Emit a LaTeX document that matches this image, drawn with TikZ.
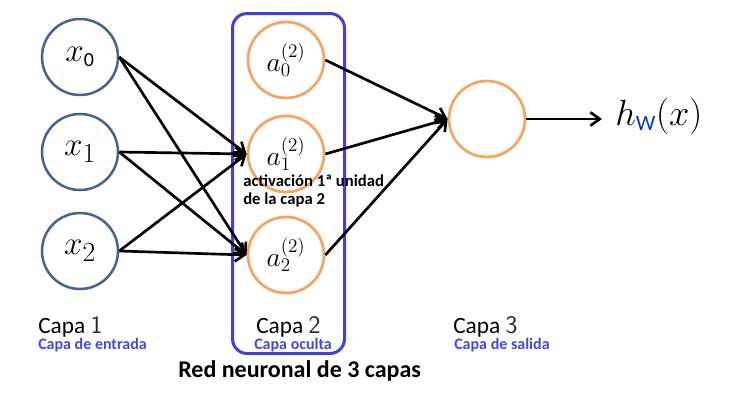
\documentclass[tikz,border=0pt]{standalone}
\usepackage{fontspec}
\usepackage{graphicx}
\newfontfamily\carlito{Carlito}
\usetikzlibrary{arrows.meta}
\definecolor{boxblue}{RGB}{66,66,204}
\definecolor{lblblue}{RGB}{72,72,214}
\definecolor{inblue}{RGB}{72,100,140}
\definecolor{orng}{RGB}{240,168,105}
\definecolor{wblue}{RGB}{0,60,190}
\definecolor{digitgray}{RGB}{40,40,40}
\begin{document}
\begin{tikzpicture}[x=0.75pt,y=-0.75pt,
  inneur/.style={circle,draw=inblue,line width=1.9pt,minimum size=57pt,inner sep=0pt,font=\fontsize{24.88}{25}\selectfont},
  hidneur/.style={circle,draw=orng,line width=2.1pt,minimum size=57pt,inner sep=0pt,font=\fontsize{22}{22}\selectfont},
  conn/.style={line width=2pt,-{Straight Barb[length=7pt,width=10pt]}},
  layer/.style={anchor=base west,inner sep=0pt,font=\carlito\fontsize{17.5}{17.5}\selectfont},
  sublbl/.style={anchor=base west,inner sep=0pt,text=lblblue,font=\carlito\bfseries\fontsize{12}{12}\selectfont},
  hidbox/.style={draw=boxblue,line width=2.25pt,rounded corners=11pt}
]
\useasboundingbox (0,0) rectangle (731,408);
% hidden layer frame
\draw[hidbox] (232.5,13.5) rectangle (344.5,353.5);
% input layer
\node[inneur] (x0) at (80,57) {$x_{\mbox{\carlito\fontsize{15}{15}\selectfont 0}}$};
\node[inneur] (x1) at (80,152) {$x_1$};
\node[inneur] (x2) at (80,251) {$x_2$};
% hidden layer
\node[hidneur] (a0) at (286,60) {$a^{(2)}_0$};
\node[hidneur] (a1) at (286,154) {\raisebox{3pt}{$a^{(2)}_1$}};
\node[hidneur] (a2) at (286,255) {$a^{(2)}_2$};
% output
\node[hidneur] (out) at (487,119) {};
\node[anchor=west,inner sep=0pt,font=\fontsize{24.88}{25}\selectfont] (h) at (615,116)
  {\scalebox{1.1}{$h_{\mbox{\carlito\fontsize{15}{15}\selectfont\color{wblue}W}}(x)$}};
\coordinate (hend) at (602,119);
% connections
\draw[conn] (x0.east) -- (a1.west);
\draw[conn] (x0.east) -- (a2.west);
\draw[conn] (x1.east) -- (a1.west);
\draw[conn] (x1.east) -- (a2.west);
\draw[conn] (x2.east) -- (a1.west);
\draw[conn] (x2.east) -- (a2.west);
\draw[conn] (a0.east) -- (out.west);
\draw[conn] (a1.east) -- (out.west);
\draw[conn] (a2.east) -- (out.west);
\draw[conn] (out.east) -- (hend);
% annotation
\node[anchor=north west,inner sep=0pt,align=left,font=\carlito\bfseries\fontsize{12.5}{13.5}\selectfont] (act) at (243,175)
  {activación 1ª unidad\\de la capa 2};
% layer labels
\node[layer] (c1) at (38,333) {Capa {\sffamily\fontsize{19}{19}\selectfont\color{digitgray}1}};
\node[sublbl] (s1) at (38,349) {Capa de entrada};
\node[layer] (c2) at (256,333) {Capa {\sffamily\fontsize{19}{19}\selectfont\color{digitgray}2}};
\node[sublbl] (s2) at (254,349) {Capa oculta};
\node[layer] (c3) at (453,333) {Capa {\sffamily\fontsize{19}{19}\selectfont\color{digitgray}3}};
\node[sublbl] (s3) at (454,349) {Capa de salida};
\node[anchor=base west,inner sep=0pt,font=\carlito\bfseries\fontsize{18}{18}\selectfont] (title) at (178,377) {Red neuronal de 3 capas};
\end{tikzpicture}
\end{document}
